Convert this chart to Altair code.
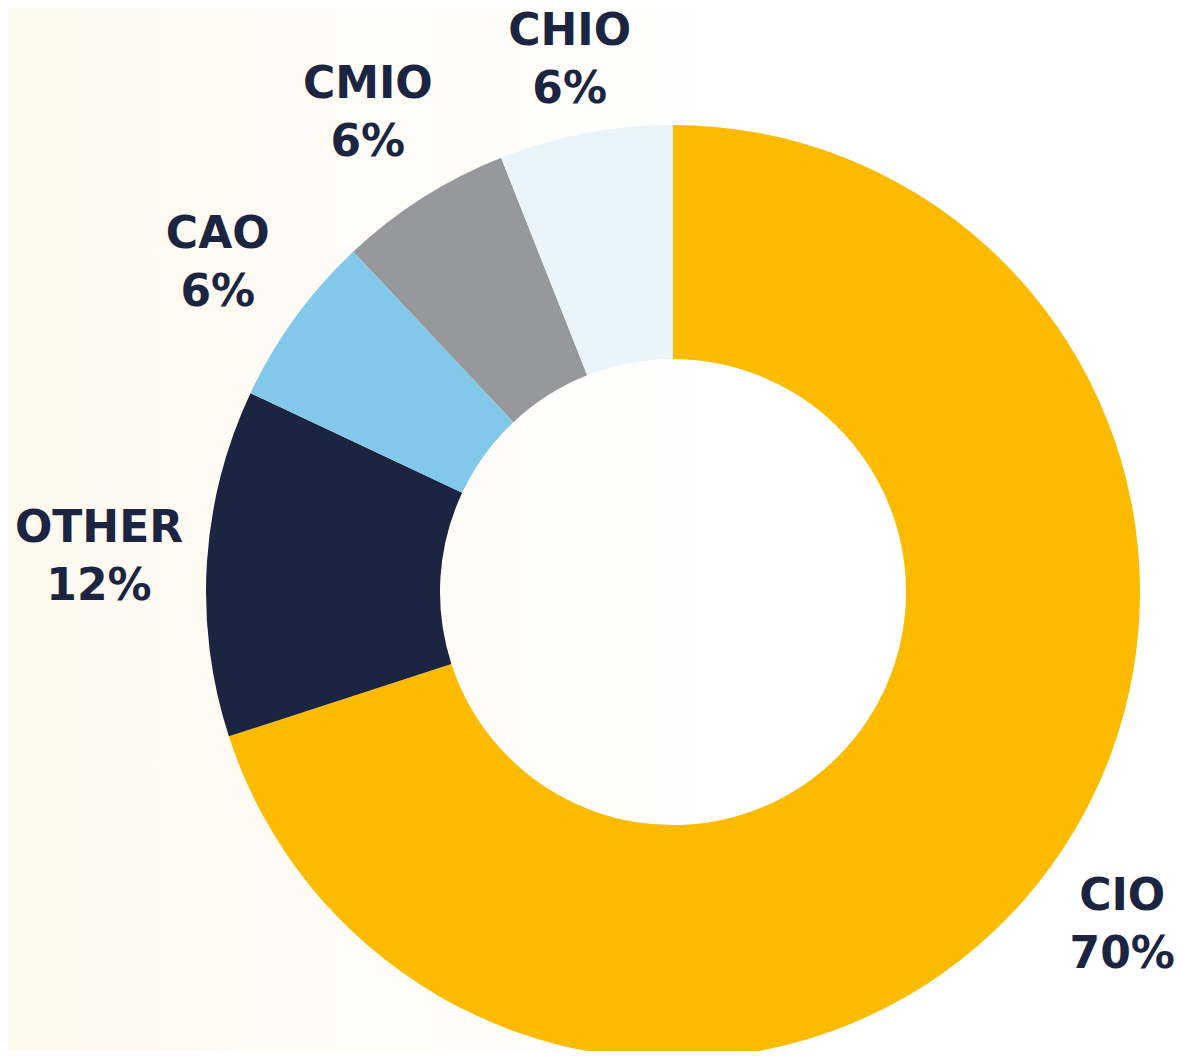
import altair as alt
import pandas as pd

roles = ["CIO", "OTHER", "CAO", "CMIO", "CHIO"]
shares = [70, 12, 6, 6, 6]
colors = ["#FDBB00", "#1B2440", "#82C8EA", "#97989B", "#E9F4FB"]

df = pd.DataFrame({
    "role": roles,
    "share": shares,
    "idx": list(range(len(roles))),
})
df["label"] = df["role"] + "\n" + df["share"].astype(str) + "%"

W, H = 1167, 1043
cx, cy = 665, 584
FS = 44
LH = 58

bg = alt.Chart(pd.DataFrame({"k": [0]})).mark_rect(
    fill=alt.LinearGradient(
        gradient="linear",
        x1=0, y1=0, x2=1, y2=0,
        stops=[
            alt.GradientStop(offset=0, color="#FEF9EE"),
            alt.GradientStop(offset=0.6, color="#FFFFFF"),
            alt.GradientStop(offset=1, color="#FFFFFF"),
        ],
    ),
    strokeWidth=0,
).encode(
    x=alt.value(-8), x2=alt.value(W + 8), y=alt.value(-8), y2=alt.value(H + 8)
)

arcs = alt.Chart(df).mark_arc(outerRadius=467, innerRadius=233).encode(
    theta=alt.Theta("share:Q", stack=True),
    order=alt.Order("idx:Q", sort="ascending"),
    color=alt.Color("role:N", scale=alt.Scale(domain=roles, range=colors), legend=None),
    x=alt.value(cx),
    y=alt.value(cy),
)

# labels placed just outside the ring at each slice's mid-angle,
# pushed out by the extent of their own text box and kept inside the canvas
labels = (
    alt.Chart(df)
    .transform_window(
        cum="sum(share)", sort=[alt.SortField("idx", order="ascending")], frame=[None, 0]
    )
    .transform_joinaggregate(total="sum(share)")
    .transform_calculate(
        a="(datum.cum - datum.share / 2) / datum.total * 2 * PI",
        hw=f"max(length(datum.role), length(toString(datum.share) + '%')) * {FS} * 0.4",
    )
    .transform_calculate(
        r="493 + abs(sin(datum.a)) * datum.hw + abs(cos(datum.a)) * 46"
    )
    .transform_calculate(
        lx=f"clamp({cx} + datum.r * sin(datum.a), datum.hw + 3, {W} - datum.hw)",
        ly=f"max({cy} - datum.r * cos(datum.a), 50)",
    )
    .mark_text(
        font="DejaVu Sans",
        fontWeight="bold",
        fontSize=FS,
        lineHeight=LH,
        lineBreak="\n",
        align="center",
        baseline="middle",
        dy=-LH / 2 + 3,
        color="#1B2440",
    )
    .encode(
        x=alt.X("lx:Q", scale=None),
        y=alt.Y("ly:Q", scale=None),
        text="label:N",
    )
)

chart = (
    alt.layer(bg, arcs, labels)
    .properties(width=W, height=H, padding=0, autosize=alt.AutoSizeParams(type="none"))
    .configure_view(strokeWidth=0)
    .configure(background="#FFFFFF")
)

chart.save("out.html", embed_options={"renderer": "svg", "actions": False})
